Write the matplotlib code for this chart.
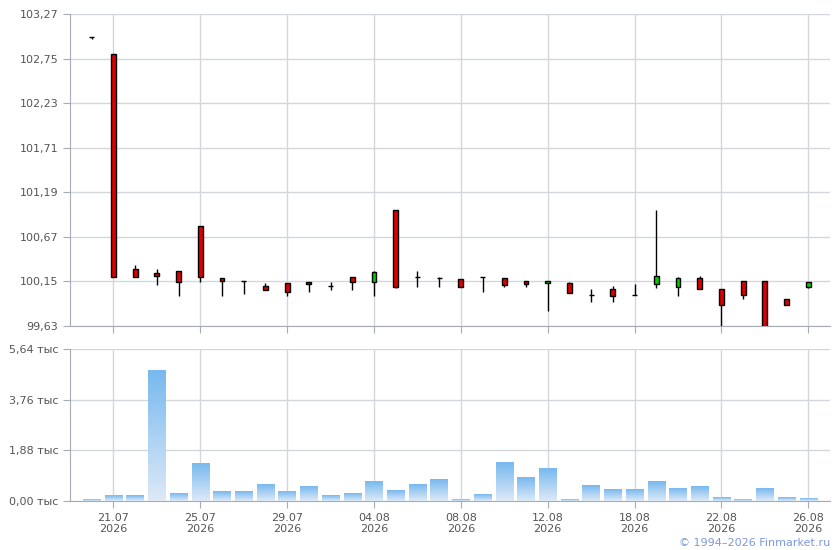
import numpy as np
import matplotlib.pyplot as plt
from matplotlib.colors import LinearSegmentedColormap

# данные свечей (по торговым дням)
opens  = [103.00, 102.80, 100.29, 100.25, 100.27, 100.80, 100.19, 100.15, 100.10, 100.13,
          100.14, 100.10, 100.20, 100.14, 100.98, 100.20, 100.19, 100.18, 100.20, 100.19,
          100.15, 100.13, 100.13, 99.99, 100.06, 99.99, 100.12, 100.08, 100.19, 100.06,
          100.16, 100.15, 99.94, 100.08]
closes = [103.00, 100.20, 100.20, 100.21, 100.14, 100.20, 100.15, 100.15, 100.05, 100.03,
          100.12, 100.10, 100.14, 100.26, 100.09, 100.20, 100.19, 100.09, 100.20, 100.11,
          100.12, 100.15, 100.02, 99.99, 99.98, 99.99, 100.21, 100.19, 100.06, 99.88,
          99.99, 99.60, 99.88, 100.14]
highs  = [103.00, 102.80, 100.34, 100.30, 100.27, 100.80, 100.19, 100.16, 100.13, 100.13,
          100.14, 100.14, 100.20, 100.27, 100.98, 100.27, 100.20, 100.18, 100.20, 100.19,
          100.16, 100.15, 100.14, 100.06, 100.10, 100.12, 100.98, 100.20, 100.21, 100.06,
          100.16, 100.15, 99.95, 100.14]
lows   = [102.98, 100.20, 100.20, 100.11, 99.98, 100.14, 99.98, 100.00, 100.05, 99.98,
          100.03, 100.05, 100.05, 99.98, 100.07, 100.08, 100.09, 100.09, 100.03, 100.09,
          100.09, 99.80, 100.02, 99.91, 99.91, 99.99, 100.07, 99.98, 100.06, 99.60,
          99.94, 99.60, 99.88, 100.07]
# объём, тыс.
volumes = [0.05, 0.21, 0.21, 4.85, 0.28, 1.40, 0.36, 0.36, 0.62, 0.36,
           0.54, 0.21, 0.28, 0.73, 0.40, 0.62, 0.80, 0.05, 0.23, 1.43,
           0.88, 1.21, 0.05, 0.58, 0.42, 0.42, 0.73, 0.47, 0.54, 0.14,
           0.05, 0.47, 0.14, 0.09]

tick_idx = [1, 5, 9, 13, 17, 21, 25, 29, 33]
tick_lbl = ['21.07\n2026', '25.07\n2026', '29.07\n2026', '04.08\n2026', '08.08\n2026',
            '12.08\n2026', '18.08\n2026', '22.08\n2026', '26.08\n2026']
price_ticks = [99.63, 100.15, 100.67, 101.19, 101.71, 102.23, 102.75, 103.27]
vol_ticks = [0.0, 1.88, 3.76, 5.64]

plt.rcParams['font.family'] = ['DejaVu Sans']
grid_c = '#d3d7dc'
spine_c = '#a7abb5'
txt_c = '#555555'

fig = plt.figure(figsize=(8.4, 5.5), dpi=100)
ax1 = fig.add_axes([0.0833, 0.4073, 0.9048, 0.5673])
ax2 = fig.add_axes([0.0833, 0.0891, 0.9048, 0.2764])

for ax in (ax1, ax2):
    ax.set_xlim(-1, 34)
    for s in ('top', 'right'):
        ax.spines[s].set_visible(False)
    for s in ('left', 'bottom'):
        ax.spines[s].set_color(spine_c)
    ax.set_xticks(tick_idx)
    ax.grid(True, color=grid_c, linewidth=1)
    ax.set_axisbelow(True)
    ax.tick_params(colors=spine_c, labelcolor=txt_c, labelsize=8, length=5)

# свечи
ax1.set_ylim(99.63, 103.27)
ax1.set_yticks(price_ticks)
ax1.set_yticklabels([('%.2f' % v).replace('.', ',') for v in price_ticks])
ax1.set_xticklabels([])
w = 0.22
for i in range(len(opens)):
    o, c, h, l = opens[i], closes[i], highs[i], lows[i]
    ax1.vlines(i, l, h, color='black', linewidth=1, zorder=3)
    if abs(o - c) < 0.005:
        ax1.hlines(o, i - 0.12, i + 0.12, color='black', linewidth=1, zorder=4)
    else:
        col = '#dd0000' if c < o else '#00cc00'
        ax1.bar(i, abs(c - o), bottom=min(o, c), width=w, color=col,
                edgecolor='black', linewidth=1, zorder=4)

# объём с градиентом
ax2.set_ylim(0, 5.64)
ax2.set_yticks(vol_ticks)
ax2.set_yticklabels([('%.2f' % v).replace('.', ',') + ' тыс' for v in vol_ticks])
ax2.set_xticklabels(tick_lbl)
grad = np.linspace(0, 1, 64).reshape(-1, 1)
cmap = LinearSegmentedColormap.from_list('v', ['#dde9f7', '#78b9ef'])
bw = 0.8
for i, v in enumerate(volumes):
    ax2.imshow(grad, extent=[i - bw / 2, i + bw / 2, 0, v], origin='lower',
               cmap=cmap, aspect='auto', zorder=3)
ax2.set_xlim(-1, 34)
ax2.set_ylim(0, 5.64)

fig.text(0.988, 0.004, '© 1994–2026 Finmarket.ru', ha='right', va='bottom',
         fontsize=8, color='#7b98e0')

fig.savefig('out.png', dpi=100)
